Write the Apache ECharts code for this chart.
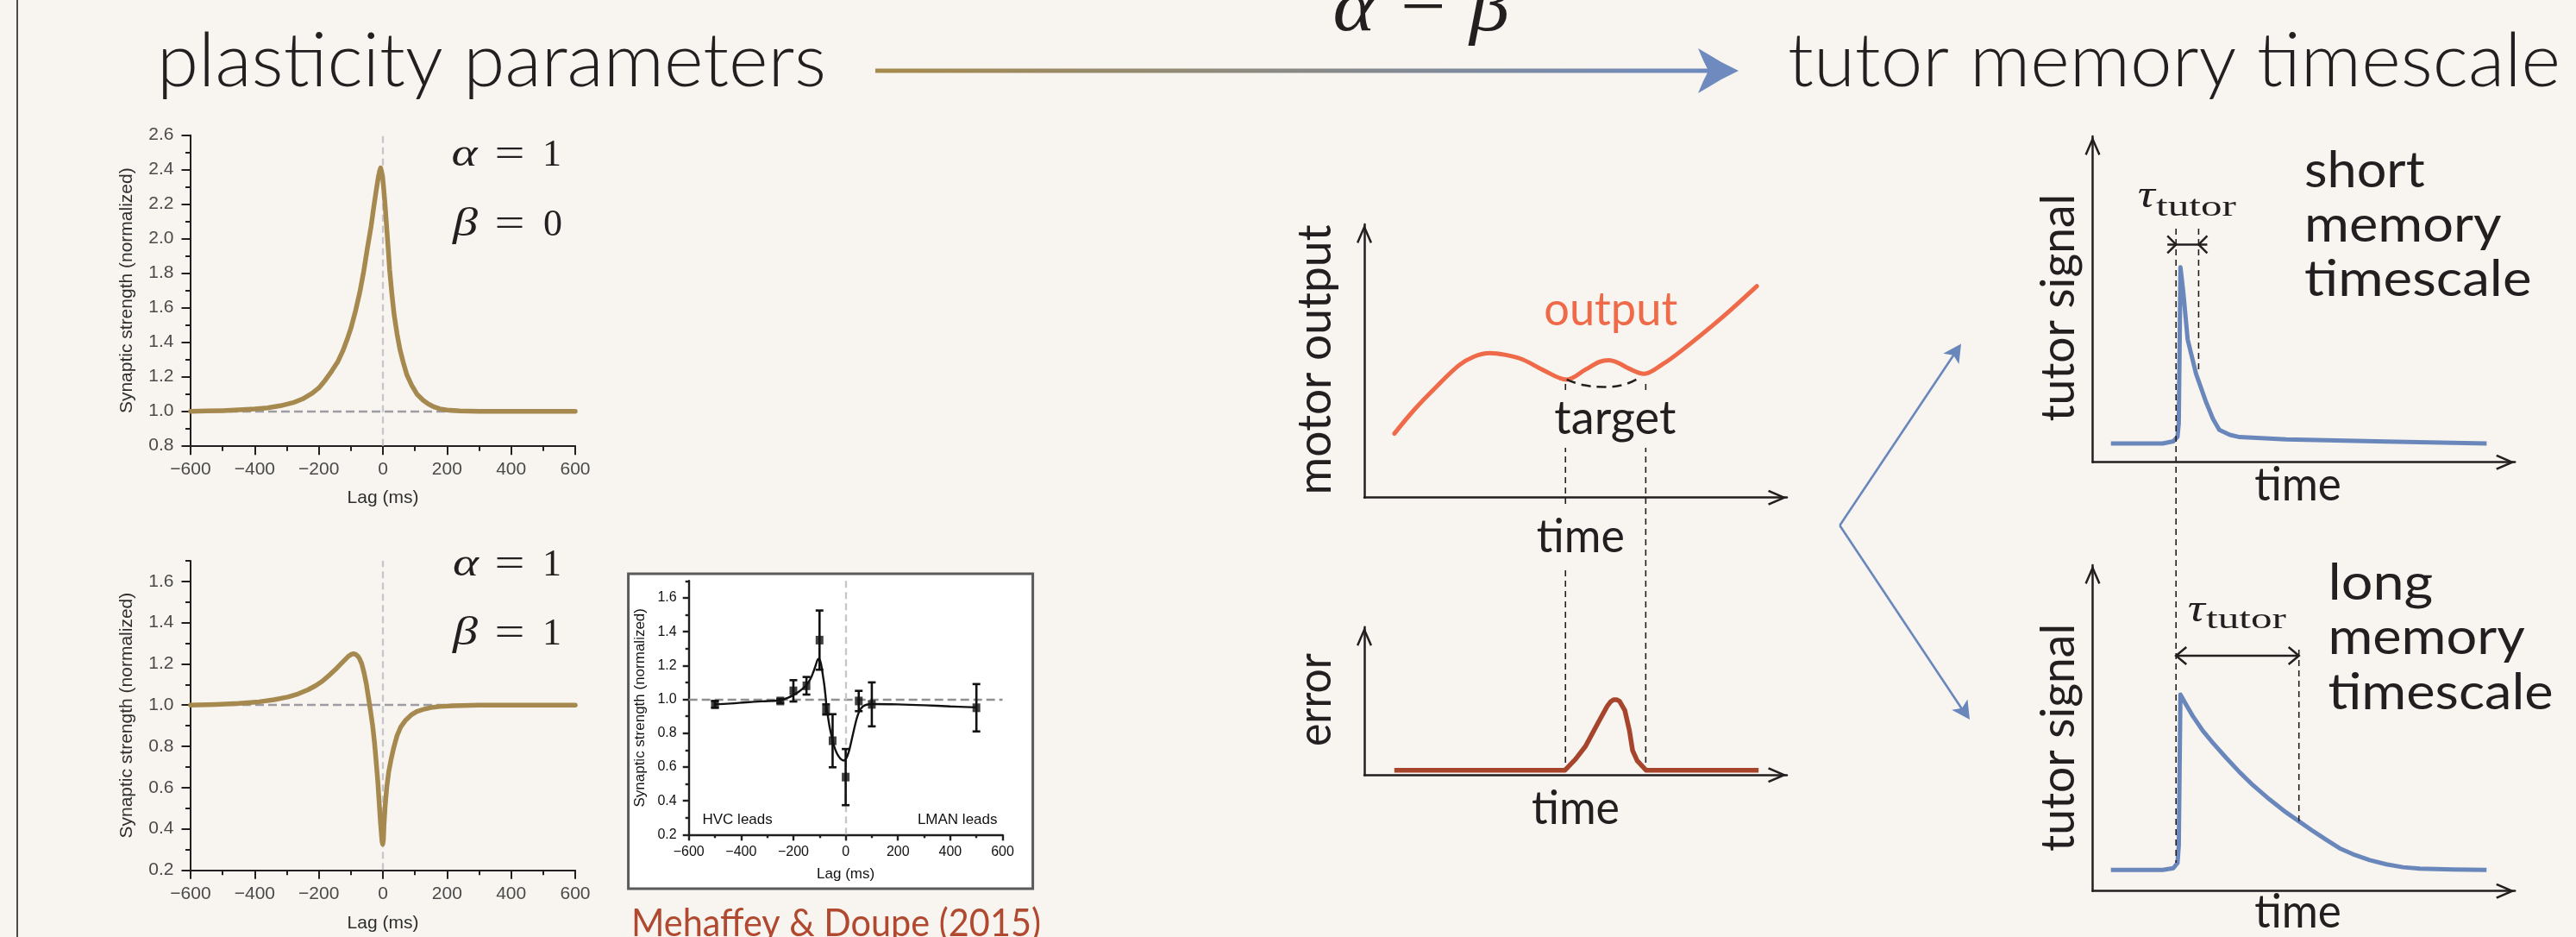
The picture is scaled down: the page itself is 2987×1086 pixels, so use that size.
<!DOCTYPE html>
<html>
<head>
<meta charset="utf-8">
<script src="https://cdn.jsdelivr.net/npm/echarts@6/dist/echarts.min.js"></script>
<style>html,body{margin:0;padding:0;background:#F8F5F0}#c{width:2987px;height:1086px}</style>
</head>
<body>
<div id="c"></div>
<script>
// ================= DATA =================
// Model STDP kernel, alpha = 1, beta = 0  [lag (ms), synaptic strength]
const kernelA = [[-600,1.000],[-550,1.002],[-500,1.004],[-450,1.008],[-400,1.013],[-360,1.02],[-320,1.032],[-280,1.05],[-250,1.072],[-220,1.105],[-200,1.135],[-180,1.18],[-160,1.232],[-140,1.29],[-125,1.35],[-110,1.425],[-100,1.48],[-85,1.585],[-72,1.69],[-60,1.81],[-48,1.95],[-37,2.07],[-28,2.19],[-20,2.29],[-14,2.36],[-10,2.395],[-7,2.41],[-4,2.40],[-1,2.36],[3,2.28],[7,2.19],[12,2.06],[17,1.93],[21,1.82],[28,1.68],[35,1.56],[44,1.45],[53,1.36],[64,1.28],[75,1.21],[90,1.15],[106,1.10],[125,1.065],[142,1.042],[160,1.025],[178,1.014],[200,1.007],[240,1.002],[300,1.0],[600,1.0]];
// Model STDP kernel, alpha = 1, beta = 1
const kernelB = [[-600,1.0],[-520,1.003],[-450,1.008],[-386,1.016],[-340,1.026],[-297,1.039],[-265,1.054],[-234,1.074],[-210,1.094],[-189,1.116],[-165,1.148],[-144,1.179],[-125,1.21],[-109,1.235],[-100,1.245],[-92,1.249],[-85,1.246],[-78,1.237],[-73,1.226],[-66,1.2],[-59,1.158],[-52,1.105],[-46,1.046],[-39,0.975],[-32,0.9],[-26,0.815],[-21,0.725],[-16,0.63],[-12,0.535],[-8,0.44],[-5,0.38],[-2.5,0.335],[-0.5,0.325],[1.5,0.345],[3.5,0.42],[7,0.51],[12,0.6],[18,0.675],[26,0.74],[34,0.795],[44,0.851],[56,0.895],[71,0.927],[88,0.952],[106,0.969],[130,0.981],[150,0.988],[178,0.993],[220,0.997],[300,1.0],[600,1.0]];
// Mehaffey & Doupe (2015) measurements
const mdLag  = [-500,-250,-200,-150,-100,-75,-50,0,50,100,500];
const mdMean = [0.97,0.99,1.05,1.08,1.35,0.94,0.755,0.54,0.99,0.97,0.95];
const mdSem  = [0.02,0.012,0.063,0.052,0.175,0.03,0.157,0.166,0.06,0.13,0.14];
const mdFit  = [[-500,0.97],[-440,0.975],[-380,0.982],[-320,0.988],[-250,0.995],[-220,1.01],[-200,1.025],[-175,1.05],[-150,1.084],[-135,1.12],[-125,1.156],[-115,1.2],[-107,1.235],[-102,1.24],[-97,1.225],[-92,1.19],[-87,1.14],[-82,1.088],[-77,1.02],[-73,0.952],[-67,0.89],[-61,0.833],[-52,0.77],[-44,0.722],[-35,0.685],[-27,0.663],[-17,0.645],[-7,0.638],[2,0.65],[12,0.69],[20,0.74],[28,0.795],[37,0.855],[46,0.905],[56,0.94],[66,0.958],[80,0.968],[99,0.972],[200,0.97],[300,0.965],[400,0.958],[500,0.952]];
// Tick labels
const lagTicks = [-600,-400,-200,0,200,400,600];
const yTicksLow  = [0.2,0.4,0.6,0.8,1.0,1.2,1.4,1.6];
const yMinorLow  = [0.3,0.5,0.7,0.9,1.1,1.3,1.5,1.7];
// Schematic: motor output vs target (arbitrary units 0-100)
const motorOutput = [[7.1,23.4],[11.8,32.1],[16.7,40.0],[22.4,48.4],[26.1,51.7],[29.6,52.9],[33.5,52.2],[37.5,50.5],[42.4,46.6],[47.9,43.2],[52.4,46.9],[55.5,49.6],[57.9,50.3],[60.2,49.2],[62.4,47.4],[66.2,45.3],[70.5,48.7],[75.0,53.7],[84.2,65.3],[92.9,77.4]];
const motorTarget = [[47.9,43.2],[52.2,41.1],[56.6,40.5],[60.8,41.1],[65.4,44.2]];
const targetWindow = [47.6, 66.6];
const windowGuideSpan = [41.6, -99.9];
// Schematic: error signal
const errorSignal = [[7.1,3.3],[47.49,3.3],[49.98,10.7],[52.33,19.4],[54.15,29.1],[55.82,37.9],[57.49,46.6],[58.3,49.6],[58.98,50.9],[59.7,50.9],[60.39,49.9],[61.65,43.7],[62.73,30.1],[63.49,16.5],[64.57,9.7],[66.65,3.3],[93.3,3.3]];
// Schematic: tutor signals
const tutorShort = [[4.33,5.75],[16.6,5.75],[19.1,6.4],[20.1,7.8],[20.4,12],[20.8,59.8],[21.5,51.8],[22.5,37.7],[24.5,27.1],[26.9,18.3],[28.5,13.3],[30.0,9.9],[32.5,8.4],[34.8,7.7],[45.8,7.0],[69.5,6.35],[93.3,5.75]];
const tutorLong = [[4.33,6.46],[16.6,6.46],[19.1,7.0],[20.1,8.6],[20.4,14],[20.79,60.3],[22.14,57.2],[23.71,53.7],[26.08,49.2],[28.45,45.5],[31.61,40.9],[34.78,36.5],[37.94,32.5],[41.89,28.1],[45.84,24.1],[48.85,21.4],[52.17,18.4],[55.34,15.7],[58.5,13.1],[61.65,11.3],[65.61,9.5],[69.56,8.2],[73.5,7.3],[77.47,6.9],[85.38,6.6],[93.28,6.46]];
const tauOnset = 19.75, tauShortEnd = 25.1, tauLongEnd = 48.85;
const shortGuides = [[tauOnset, 71.7, -122.9], [tauShortEnd, 71.7, 27.2]];
const longGuides  = [[tauLongEnd, 74.05, 21.45]];
const shortTauBar = [[tauOnset, tauShortEnd, 66.8]];
const longTauBar  = [[tauOnset, tauLongEnd, 72.2]];

// ================= STYLE =================
const BG = '#F8F5F0', INK = '#231F20', GOLD = '#A6894F', BLUE = '#6A87BC',
      ORANGE = '#EE6A48', BROWN = '#A6442C', GRAYD = '#9C9CA2', GRAYL = '#C4C5CD';
const CHEV = 'path://M9,0L18,20.8L15.8,22L9,6.3L2.2,22L0,20.8Z';
const minus = v => (v < 0 ? '\u2212' + (-v) : String(v));

const meas = document.createElement('canvas').getContext('2d');
function T(o) {
  const font = (o.italic ? 'italic ' : 'normal ') + (o.weight || 'normal') + ' ' + o.size + 'px ' + o.family;
  meas.font = font; meas.textBaseline = 'middle';
  const d = meas.measureText('x').actualBoundingBoxDescent;
  const w = meas.measureText(o.text).width;
  meas.textBaseline = 'alphabetic';
  const el = { type: 'text', z: 100, scaleX: o.width ? o.width / w : 1,
    style: { text: o.text, font: font, fill: o.color || INK, align: o.align || 'left', verticalAlign: 'middle' } };
  if (o.rot) { el.rotation = Math.PI / 2; el.x = o.bx - d; el.y = o.cy; el.style.align = 'center'; }
  else { el.x = o.x; el.y = o.by - d; }
  if (o.bg) { el.style.backgroundColor = o.bg; el.style.padding = o.pad || [4, 4]; }
  return el;
}

function lagAxis(gi, s) {
  return { type: 'value', gridIndex: gi, min: -600, max: 600, interval: 200,
    axisLine: { show: true, onZero: false, lineStyle: { color: INK, width: s.lw } },
    axisTick: { show: true, length: s.tick, lineStyle: { color: INK, width: s.lw } },
    minorTick: { show: true, splitNumber: 2, length: s.minor, lineStyle: { color: INK, width: s.lw } },
    splitLine: { show: false }, minorSplitLine: { show: false },
    axisLabel: { margin: s.lm, fontFamily: 'Liberation Sans', fontSize: s.fs, color: s.lc, formatter: minus },
    name: 'Lag (ms)', nameLocation: 'middle', nameGap: s.ng,
    nameTextStyle: { fontFamily: 'Liberation Sans', fontSize: s.nfs, color: s.nc } };
}
function strengthAxis(gi, s, min, max, custom) {
  const ax = { type: 'value', gridIndex: gi, min: min, max: max, interval: 0.2, position: 'left',
    axisLine: { show: true, onZero: false, lineStyle: { color: INK, width: s.lw } },
    axisTick: { show: true, length: s.tick, lineStyle: { color: INK, width: s.lw } },
    minorTick: { show: !custom, splitNumber: 2, length: s.minor, lineStyle: { color: INK, width: s.lw } },
    splitLine: { show: false }, minorSplitLine: { show: false },
    axisLabel: { margin: s.ym, fontFamily: 'Liberation Sans', fontSize: s.fs, color: s.lc, formatter: v => v.toFixed(1) },
    name: 'Synaptic strength (normalized)', nameLocation: 'middle', nameGap: s.yng,
    nameTextStyle: { fontFamily: 'Liberation Sans', fontSize: s.nfs, color: s.nc } };
  if (custom) { ax.axisLabel.customValues = yTicksLow; ax.axisTick.customValues = yTicksLow; }
  return ax;
}
function minorAxis(gi, s, min, max) {
  return { type: 'value', gridIndex: gi, min: min, max: max, position: 'left',
    axisLine: { show: false, onZero: false }, axisLabel: { show: false },
    axisTick: { show: true, length: s.minor, customValues: yMinorLow, lineStyle: { color: INK, width: s.lw } },
    splitLine: { show: false } };
}
function diagAxis(gi, dim) {
  return { type: 'value', gridIndex: gi, min: 0, max: 100,
    axisLine: { show: true, onZero: false, lineStyle: { color: INK, width: 2.5 },
      symbol: ['none', CHEV], symbolSize: [18, 22], symbolOffset: [0, -11] },
    axisTick: { show: false }, axisLabel: { show: false }, splitLine: { show: false }, minorTick: { show: false } };
}
const big = { lw: 2, tick: 10.5, minor: 6, fs: 21, nfs: 21, lc: '#4a4a4a', nc: '#2e2e2e', lm: 17, ym: 19.6, ng: 50, yng: 63.7 };
const bigB = Object.assign({}, big, { ng: 51 });
const ins = { lw: 2.4, tick: 7, minor: 4, fs: 16, nfs: 17, lc: '#111', nc: '#111', lm: 12.4, ym: 14, ng: 37.5, yng: 47.6 };

function vGuide(style) {
  return function (p, api) {
    const a = api.coord([api.value(0), api.value(1)]), b = api.coord([api.value(0), api.value(2)]);
    return { type: 'line', shape: { x1: a[0], y1: a[1], x2: b[0], y2: b[1] }, style: style };
  };
}
function tauBar(inward) {
  return function (p, api) {
    const y = api.value(2);
    const a = api.coord([api.value(0), y]), b = api.coord([api.value(1), y]);
    const st = { stroke: INK, lineWidth: 2.5, fill: null };
    const h = 10, k = inward ? 10 : 12;
    const kids = [];
    if (inward) {
      kids.push({ type: 'line', shape: { x1: a[0] - k, y1: a[1], x2: b[0] + k, y2: b[1] }, style: st });
      kids.push({ type: 'polyline', shape: { points: [[a[0] - k, a[1] - h], [a[0], a[1]], [a[0] - k, a[1] + h]] }, style: st });
      kids.push({ type: 'polyline', shape: { points: [[b[0] + k, b[1] - h], [b[0], b[1]], [b[0] + k, b[1] + h]] }, style: st });
    } else {
      kids.push({ type: 'line', shape: { x1: a[0], y1: a[1], x2: b[0], y2: b[1] }, style: st });
      kids.push({ type: 'polyline', shape: { points: [[a[0] + k, a[1] - h], [a[0], a[1]], [a[0] + k, a[1] + h]] }, style: st });
      kids.push({ type: 'polyline', shape: { points: [[b[0] - k, b[1] - h], [b[0], b[1]], [b[0] - k, b[1] + h]] }, style: st });
    }
    return { type: 'group', children: kids };
  };
}
function errBar(p, api) {
  const x = api.value(0), m = api.value(1), s = api.value(2);
  const t = api.coord([x, m + s]), b = api.coord([x, m - s]), hw = 4.5;
  const st = { stroke: '#111', lineWidth: 2.6 };
  return { type: 'group', children: [
    { type: 'line', shape: { x1: t[0], y1: t[1], x2: b[0], y2: b[1] }, style: st },
    { type: 'line', shape: { x1: t[0] - hw, y1: t[1], x2: t[0] + hw, y2: t[1] }, style: st },
    { type: 'line', shape: { x1: b[0] - hw, y1: b[1], x2: b[0] + hw, y2: b[1] }, style: st } ] };
}
function refLines(hc, vc, w) {
  return { silent: true, symbol: 'none', z: 1, label: { show: false }, animation: false,
    data: [ { yAxis: 1, lineStyle: { color: hc, type: [10, 5], width: w } },
            { xAxis: 0, lineStyle: { color: vc, type: [8, 5], width: w } } ] };
}
function arrowHead(tip, from, len, hw, notch) {
  const dx = tip[0] - from[0], dy = tip[1] - from[1], L = Math.hypot(dx, dy), ux = dx / L, uy = dy / L, px = -uy, py = ux;
  const bx = tip[0] - ux * len, by = tip[1] - uy * len;
  return [[tip[0], tip[1]], [bx + px * hw, by + py * hw], [tip[0] - ux * (len - notch), tip[1] - uy * (len - notch)], [bx - px * hw, by - py * hw]];
}

// ================= GRAPHIC (layout / annotations) =================
const fork = [2133.3, 609], forkUp = [2274, 398.5], forkDown = [2284, 834];
const graphic = [
  { type: 'line', z: 100, shape: { x1: 20, y1: 0, x2: 20, y2: 1086 }, style: { stroke: '#4a4a4a', lineWidth: 2 } },
  { type: 'rect', z: -10, shape: { x: 728.6, y: 665, width: 469, height: 365 }, style: { fill: '#ffffff', stroke: '#5a5a5a', lineWidth: 3 } },
  { type: 'rect', z: 100, shape: { x: 1015, y: 79.5, width: 968, height: 5 },
    style: { fill: new echarts.graphic.LinearGradient(0, 0, 1, 0, [{ offset: 0, color: '#A68A4C' }, { offset: 1, color: '#6E8ABE' }]) } },
  { type: 'polygon', z: 100, shape: { points: [[2016, 82], [1996, 72], [1981, 63], [1969, 56], [1975, 70], [1981, 82], [1975, 94], [1969, 108], [1981, 101], [1996, 92]] }, style: { fill: '#6E8ABE' } },
  { type: 'line', z: 100, shape: { x1: fork[0], y1: fork[1], x2: forkUp[0] - 0.556 * 15, y2: forkUp[1] + 0.831 * 15 }, style: { stroke: BLUE, lineWidth: 2.6 } },
  { type: 'line', z: 100, shape: { x1: fork[0], y1: fork[1], x2: forkDown[0] - 8.5, y2: forkDown[1] - 11.5 }, style: { stroke: BLUE, lineWidth: 2.6 } },
  { type: 'polygon', z: 100, shape: { points: arrowHead(forkUp, fork, 21, 11, 5) }, style: { fill: BLUE } },
  { type: 'polygon', z: 100, shape: { points: arrowHead(forkDown, fork, 21, 11, 5) }, style: { fill: BLUE } },
  // titles
  T({ text: 'plasticity parameters', family: 'Lato', weight: 300, size: 86, x: 182, by: 100, width: 776 }),
  T({ text: 'tutor memory timescale', family: 'Lato', weight: 300, size: 86, x: 2073, by: 100, width: 896 }),
  T({ text: '\u03b1 \u2212 \u03b2', family: 'Liberation Serif', italic: true, size: 84, x: 1648, by: 35, width: 205, align: 'center' }),
  // alpha / beta labels
  T({ text: '\u03b1', family: 'Liberation Serif', italic: true, size: 46, x: 523.6, by: 191.7, width: 30 }),
  T({ text: '=', family: 'Liberation Serif', size: 46, x: 591, by: 191.7, width: 35, align: 'center' }),
  T({ text: '1', family: 'Liberation Serif', size: 44, x: 651, by: 191.7, align: 'right' }),
  T({ text: '\u03b2', family: 'Liberation Serif', italic: true, size: 46, x: 525, by: 273.3, width: 29 }),
  T({ text: '=', family: 'Liberation Serif', size: 46, x: 591, by: 273.3, width: 35, align: 'center' }),
  T({ text: '0', family: 'Liberation Serif', size: 44, x: 652, by: 273.3, align: 'right' }),
  T({ text: '\u03b1', family: 'Liberation Serif', italic: true, size: 46, x: 525, by: 666.7, width: 30 }),
  T({ text: '=', family: 'Liberation Serif', size: 46, x: 591, by: 666.7, width: 35, align: 'center' }),
  T({ text: '1', family: 'Liberation Serif', size: 44, x: 651, by: 666.7, align: 'right' }),
  T({ text: '\u03b2', family: 'Liberation Serif', italic: true, size: 46, x: 525, by: 746.7, width: 29 }),
  T({ text: '=', family: 'Liberation Serif', size: 46, x: 591, by: 746.7, width: 35, align: 'center' }),
  T({ text: '1', family: 'Liberation Serif', size: 44, x: 651, by: 746.7, align: 'right' }),
  // inset labels
  T({ text: 'HVC leads', family: 'Liberation Sans', size: 17, x: 814.5, by: 955, color: '#111' }),
  T({ text: 'LMAN leads', family: 'Liberation Sans', size: 17, x: 1156.5, by: 955, color: '#111', align: 'right' }),
  T({ text: 'Mehaffey & Doupe (2015)', family: 'Lato', size: 44, x: 732, by: 1085, width: 475, color: '#B0492F' }),
  // middle schematic
  T({ text: 'motor output', family: 'Lato', size: 54, rot: true, bx: 1543.3, cy: 417, width: 313 }),
  T({ text: 'error', family: 'Lato', size: 54, rot: true, bx: 1543.3, cy: 811, width: 108 }),
  T({ text: 'output', family: 'Lato', size: 54, x: 1790.2, by: 376.7, width: 155, color: ORANGE }),
  T({ text: 'target', family: 'Lato', size: 54, x: 1796.3, by: 503.3, width: 141, bg: BG, pad: [6, 6] }),
  T({ text: 'time', family: 'Lato', size: 54, x: 1776, by: 640, width: 102, bg: BG, pad: [10, 6] }),
  T({ text: 'time', family: 'Lato', size: 54, x: 1776, by: 955, width: 102 }),
  // right schematic
  T({ text: 'tutor signal', family: 'Lato', size: 54, rot: true, bx: 2405, cy: 356.8, width: 263.6 }),
  T({ text: 'tutor signal', family: 'Lato', size: 54, rot: true, bx: 2405, cy: 855, width: 264 }),
  T({ text: 'time', family: 'Lato', size: 54, x: 2614.2, by: 580, width: 100.7 }),
  T({ text: 'time', family: 'Lato', size: 54, x: 2614.2, by: 1075, width: 100.7 }),
  T({ text: 'short', family: 'Lato', size: 58, x: 2672, by: 216.7, width: 139.6 }),
  T({ text: 'memory', family: 'Lato', size: 58, x: 2672, by: 280, width: 228.6 }),
  T({ text: 'timescale', family: 'Lato', size: 58, x: 2672, by: 343.3, width: 263.5 }),
  T({ text: 'long', family: 'Lato', size: 58, x: 2699.4, by: 695, width: 121.9 }),
  T({ text: 'memory', family: 'Lato', size: 58, x: 2699.4, by: 758.3, width: 228.4 }),
  T({ text: 'timescale', family: 'Lato', size: 58, x: 2699.4, by: 821.7, width: 261.3 }),
  T({ text: '\u03c4', family: 'Liberation Serif', italic: true, size: 46, x: 2478.7, by: 240, width: 20 }),
  T({ text: 'tutor', family: 'Liberation Serif', size: 33, x: 2500, by: 250, width: 93 }),
  T({ text: '\u03c4', family: 'Liberation Serif', italic: true, size: 46, x: 2536.8, by: 720, width: 20 }),
  T({ text: 'tutor', family: 'Liberation Serif', size: 33, x: 2558, by: 728.3, width: 93 })
];

// ================= OPTION =================
const guideStyle = { stroke: INK, lineWidth: 1.6, lineDash: [7, 5] };
const option = {
  backgroundColor: BG,
  animation: false,
  grid: [
    { left: 221, top: 156.7, width: 446, height: 360, outerBoundsMode: 'none' },
    { left: 221, top: 650, width: 446, height: 358.3, outerBoundsMode: 'none' },
    { left: 798.7, top: 673.3, width: 363.8, height: 294, outerBoundsMode: 'none' },
    { left: 1582, top: 260, width: 490, height: 316.7, outerBoundsMode: 'none' },
    { left: 1582, top: 726.7, width: 490, height: 171.6, outerBoundsMode: 'none' },
    { left: 2426.5, top: 158, width: 489.7, height: 377.7, outerBoundsMode: 'none' },
    { left: 2426.5, top: 655, width: 489.7, height: 377.7, outerBoundsMode: 'none' }
  ],
  xAxis: [ lagAxis(0, big), lagAxis(1, bigB), lagAxis(2, ins),
           diagAxis(3, 'x'), diagAxis(4, 'x'), diagAxis(5, 'x'), diagAxis(6, 'x') ],
  yAxis: [ strengthAxis(0, big, 0.8, 2.6, false),
           strengthAxis(1, big, 0.2, 1.7, true),
           strengthAxis(2, ins, 0.2, 1.7, true),
           diagAxis(3, 'y'), diagAxis(4, 'y'), diagAxis(5, 'y'), diagAxis(6, 'y'),
           minorAxis(1, big, 0.2, 1.7), minorAxis(2, ins, 0.2, 1.7) ],
  series: [
    { type: 'line', xAxisIndex: 0, yAxisIndex: 0, data: kernelA, showSymbol: false, symbol: 'none', z: 3,
      lineStyle: { color: GOLD, width: 5.5, join: 'round', cap: 'round' }, markLine: refLines(GRAYD, GRAYL, 2.3) },
    { type: 'line', xAxisIndex: 1, yAxisIndex: 1, data: kernelB, showSymbol: false, symbol: 'none', z: 3,
      lineStyle: { color: GOLD, width: 5.5, join: 'round', cap: 'round' }, markLine: refLines(GRAYD, GRAYL, 2.3) },
    { type: 'line', xAxisIndex: 2, yAxisIndex: 2, data: mdFit, showSymbol: false, symbol: 'none', smooth: 0.4, z: 3,
      lineStyle: { color: '#111', width: 2.4 }, markLine: refLines('#8f8f8f', '#c6c6c6', 2.3) },
    { type: 'custom', xAxisIndex: 2, yAxisIndex: 2, z: 3, clip: false, renderItem: errBar,
      data: mdLag.map((l, i) => [l, mdMean[i], mdSem[i]]) },
    { type: 'scatter', xAxisIndex: 2, yAxisIndex: 2, z: 4, symbol: 'rect', symbolSize: [9, 10],
      itemStyle: { color: '#111' }, data: mdLag.map((l, i) => [l, mdMean[i]]) },
    { type: 'line', xAxisIndex: 3, yAxisIndex: 3, data: motorOutput, showSymbol: false, symbol: 'none', smooth: 0.35, z: 3,
      lineStyle: { color: ORANGE, width: 5, cap: 'round' } },
    { type: 'line', xAxisIndex: 3, yAxisIndex: 3, data: motorTarget, showSymbol: false, symbol: 'none', smooth: 0.5, z: 3,
      lineStyle: { color: INK, width: 2.5, type: [11, 7] } },
    { type: 'custom', xAxisIndex: 3, yAxisIndex: 3, clip: false, z: 2, renderItem: vGuide(guideStyle),
      data: targetWindow.map(t => [t, windowGuideSpan[0], windowGuideSpan[1]]) },
    { type: 'line', xAxisIndex: 4, yAxisIndex: 4, data: errorSignal, showSymbol: false, symbol: 'none', smooth: false, z: 3,
      lineStyle: { color: BROWN, width: 5.5, join: 'round' } },
    { type: 'line', xAxisIndex: 5, yAxisIndex: 5, data: tutorShort, showSymbol: false, symbol: 'none', z: 3,
      lineStyle: { color: BLUE, width: 5, join: 'round' } },
    { type: 'custom', xAxisIndex: 5, yAxisIndex: 5, clip: false, z: 4, renderItem: vGuide(guideStyle), data: shortGuides },
    { type: 'custom', xAxisIndex: 5, yAxisIndex: 5, clip: false, z: 4, renderItem: tauBar(true), data: shortTauBar },
    { type: 'line', xAxisIndex: 6, yAxisIndex: 6, data: tutorLong, showSymbol: false, symbol: 'none', smooth: false, z: 3,
      lineStyle: { color: BLUE, width: 5, join: 'round' } },
    { type: 'custom', xAxisIndex: 6, yAxisIndex: 6, clip: false, z: 4, renderItem: vGuide(guideStyle), data: longGuides },
    { type: 'custom', xAxisIndex: 6, yAxisIndex: 6, clip: false, z: 4, renderItem: tauBar(false), data: longTauBar }
  ],
  graphic: graphic
};
const chart = echarts.init(document.getElementById('c'), null, { renderer: 'canvas', width: 2987, height: 1086 });
chart.setOption(option);
</script>
</body>
</html>
